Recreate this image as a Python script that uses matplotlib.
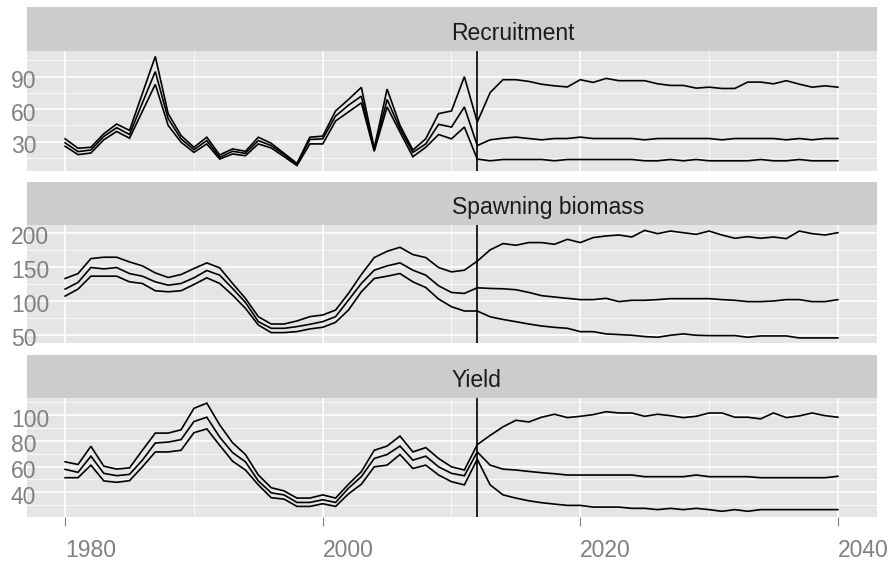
import matplotlib
matplotlib.use("Agg")
import matplotlib.pyplot as plt
from matplotlib.transforms import ScaledTranslation

# ---- data -----------------------------------------------------------------
years = list(range(1980, 2041))
proj_start = 2012

rec_hi = [32.5, 23.8, 24.7, 37.2, 46.2, 40.3, 74.5, 108.7, 55.8, 35.6, 24.7,
          34.0, 17.6, 23.2, 21.0, 34.0, 28.4, 19.1, 9.8, 34.0, 35.0, 58.3,
          68.9, 80.1, 24.0, 78.5, 45.0, 22.2, 32.5, 55.8, 58.3, 90.0, 48.0,
          75.3, 87.2, 87.2, 85.6, 83.0, 81.5, 80.5, 87.2, 84.7, 88.4, 86.3,
          86.3, 86.3, 83.4, 81.9, 81.9, 79.4, 80.3, 79.1, 79.1, 85.0, 85.0,
          83.4, 86.3, 83.1, 80.3, 81.5, 80.3]
rec_med = [28.8, 20.7, 22.2, 34.7, 42.8, 36.5, 65.8, 94.7, 51.1, 32.5, 22.5,
           30.9, 15.4, 21.0, 19.1, 30.9, 26.3, 17.9, 8.8, 31.9, 32.5, 53.6,
           63.6, 72.0, 22.0, 68.9, 41.8, 20.0, 27.8, 45.9, 43.4, 62.0, 26.3,
           31.6, 33.1, 34.1, 32.8, 31.6, 32.8, 32.8, 34.1, 32.8, 32.8, 32.8,
           32.8, 31.6, 32.8, 32.8, 32.8, 32.8, 32.8, 31.6, 32.8, 32.8, 32.8,
           32.8, 31.6, 32.8, 31.6, 32.8, 32.8]
rec_lo = [25.6, 17.9, 19.4, 31.6, 39.3, 33.1, 58.0, 82.9, 44.9, 29.4, 20.0,
          27.8, 13.8, 18.5, 16.9, 27.8, 24.1, 16.0, 7.8, 27.8, 27.8, 49.0,
          57.4, 65.8, 21.0, 62.0, 38.7, 16.0, 24.7, 36.5, 32.5, 43.4, 13.8,
          12.2, 13.4, 13.4, 13.4, 13.4, 12.2, 13.4, 13.4, 13.4, 13.4, 13.4,
          13.4, 12.2, 12.2, 13.4, 12.2, 13.4, 12.2, 12.2, 12.2, 12.2, 13.4,
          12.2, 12.2, 13.4, 12.2, 12.2, 12.2]

ssb_hi = [132.8, 140.0, 162.0, 164.0, 164.0, 157.1, 151.3, 141.0, 134.3, 138.6,
          147.4, 155.7, 148.4, 125.5, 103.6, 76.8, 66.0, 66.0, 70.5, 76.8,
          79.2, 86.5, 110.9, 138.6, 163.5, 172.7, 178.6, 167.9, 163.5, 148.9,
          142.5, 145.0, 158.2,
          174.8, 184.0, 181.6, 185.5, 185.5, 183.0, 190.3, 185.5, 192.8, 195.2,
          196.6, 193.7, 203.4, 198.6, 202.4, 200.0, 197.6, 202.4, 196.6, 191.8,
          194.2, 191.8, 193.7, 191.3, 202.4, 198.6, 196.6, 200.0]
ssb_med = [117.2, 127.0, 148.9, 146.9, 148.9, 140.0, 136.2, 127.9, 123.0, 125.5,
           133.8, 144.5, 137.7, 118.2, 97.7, 69.5, 59.7, 59.7, 62.2, 65.6,
           69.5, 76.8, 101.1, 125.5, 145.0, 151.3, 155.7, 145.0, 137.7, 122.1,
           112.3, 110.9, 119.2,
           118.2, 117.7, 116.3, 112.4, 107.6, 105.6, 103.7, 101.8, 101.8, 103.7,
           98.9, 100.8, 100.8, 101.8, 103.2, 103.2, 103.2, 103.2, 101.8, 100.8,
           98.9, 98.9, 99.8, 101.8, 101.8, 98.9, 98.9, 101.8]
ssb_lo = [107.0, 117.2, 136.2, 136.2, 136.2, 127.9, 125.5, 114.8, 113.3, 114.8,
          124.0, 133.8, 125.5, 108.4, 89.0, 64.6, 53.4, 53.4, 54.9, 58.8,
          61.2, 68.5, 86.5, 113.3, 132.8, 136.2, 140.1, 127.9, 119.6, 102.6,
          91.4, 85.1, 85.1,
          76.6, 72.7, 69.4, 66.0, 63.1, 61.1, 59.7, 54.8, 54.8, 51.5,
          50.5, 49.5, 47.6, 46.6, 49.5, 51.5, 49.5, 49.0, 49.0, 49.0,
          46.6, 48.5, 48.5, 48.5, 45.6, 45.6, 45.6, 45.6]

yld_hi = [63.7, 61.6, 75.8, 60.3, 58.0, 59.0, 72.7, 86.1, 86.1, 88.7, 105.4,
          109.5, 92.5, 78.6, 69.4, 53.4, 43.5, 41.0, 35.4, 35.4, 37.9, 35.4,
          46.2, 56.0, 72.7, 76.0, 83.8, 71.4, 74.8, 66.3, 59.8, 57.3, 77.1,
          84.3, 91.0, 96.1, 94.8, 98.5, 100.8, 98.2, 99.2, 100.5, 102.8, 101.8,
          101.8, 99.2, 100.8, 99.7, 98.2, 99.2, 101.8, 101.8, 98.5, 98.5, 97.2,
          101.8, 98.2, 99.5, 101.8, 99.7, 98.5]
yld_med = [57.8, 55.5, 68.1, 54.7, 52.9, 53.9, 65.0, 78.4, 79.1, 81.0, 95.1,
           98.5, 83.0, 70.9, 63.7, 48.8, 39.5, 37.9, 32.0, 32.0, 34.1, 32.0,
           43.1, 52.1, 66.3, 69.4, 76.0, 65.0, 68.1, 59.8, 54.7, 52.8, 71.4,
           61.1, 58.0, 57.3, 56.2, 55.2, 54.4, 53.4, 53.4, 53.4, 53.4, 53.4,
           53.4, 52.1, 52.1, 52.1, 52.1, 53.4, 52.1, 52.1, 52.1, 52.1, 51.3,
           51.3, 51.3, 51.3, 51.3, 51.3, 52.4]
yld_lo = [51.3, 51.3, 61.1, 48.8, 47.7, 49.0, 59.8, 71.4, 71.4, 72.7, 86.4,
          89.4, 76.6, 64.2, 57.3, 45.7, 35.7, 34.6, 28.9, 28.9, 31.0, 28.9,
          38.7, 46.2, 59.8, 61.1, 69.4, 58.5, 61.1, 53.4, 48.2, 45.7, 65.7,
          45.7, 37.9, 35.4, 33.3, 31.8, 30.7, 29.7, 29.7, 28.4, 28.4, 28.4,
          27.4, 27.4, 26.4, 27.4, 26.4, 27.4, 26.4, 25.1, 26.4, 25.1, 26.4,
          26.4, 26.4, 26.4, 26.4, 26.4, 26.4]

facet_titles = ["Recruitment", "Spawning biomass", "Yield"]
y_major = [[30, 60, 90], [50, 100, 150, 200], [40, 60, 80, 100]]
y_minor = [[15, 45, 75, 105], [75, 125, 175], [30, 50, 70, 90, 110]]
x_major = [1980, 2000, 2020, 2040]
x_minor = [1990, 2010, 2030]
series = [(rec_hi, rec_med, rec_lo), (ssb_hi, ssb_med, ssb_lo),
          (yld_hi, yld_med, yld_lo)]

# ---- style ----------------------------------------------------------------
plt.rcParams["font.family"] = ["Liberation Sans", "DejaVu Sans"]
PANEL_BG = "#E5E5E5"
STRIP_BG = "#CCCCCC"
TICK_GREY = "#808080"
FS = 16.5

W, H, DPI = 894, 563, 100
fig = plt.figure(figsize=(W / DPI, H / DPI), dpi=DPI)
fig.patch.set_facecolor("white")

LEFT, RIGHT = 26.5, 876.5
strip_tops = [7, 181.5, 355]
panel_tops = [51, 225, 397.7]
panel_bottoms = [171, 343.3, 516.7]


def box(top, bottom):
    return [LEFT / W, 1 - bottom / H, (RIGHT - LEFT) / W, (bottom - top) / H]


def expand(lo, hi, frac=0.05):
    pad = (hi - lo) * frac
    return lo - pad, hi + pad


xlim = expand(min(years), max(years))

for i, title in enumerate(facet_titles):
    # strip with facet title
    sax = fig.add_axes(box(strip_tops[i], panel_tops[i]))
    sax.set_facecolor(STRIP_BG)
    sax.set_xticks([])
    sax.set_yticks([])
    for sp in sax.spines.values():
        sp.set_visible(False)
    sax.text(0.5, 0.26, title, transform=sax.transAxes, ha="left",
             va="baseline", fontsize=FS, color="#1A1A1A")

    ax = fig.add_axes(box(panel_tops[i], panel_bottoms[i]))
    ax.set_facecolor(PANEL_BG)
    for sp in ax.spines.values():
        sp.set_visible(False)
    ax.set_axisbelow(True)

    hi, med, lo = series[i]
    for s in (hi, med, lo):
        ax.plot(years, s, color="black", lw=1.2, solid_joinstyle="miter",
                zorder=3)
    ax.axvline(proj_start, color="black", lw=1.2, zorder=3)

    allv = hi + med + lo
    ax.set_ylim(*expand(min(allv), max(allv)))
    ax.set_xlim(*xlim)

    ax.set_xticks(x_major)
    ax.set_xticks(x_minor, minor=True)
    ax.set_yticks(y_major[i])
    ax.set_yticks(y_minor[i], minor=True)
    ax.grid(which="major", color="white", lw=1.2)
    ax.grid(which="minor", color="white", lw=0.55)

    ax.tick_params(axis="both", which="minor", length=0)
    ax.tick_params(axis="y", which="major", length=0, pad=11.2,
                   labelsize=FS, labelcolor=TICK_GREY)
    ax.set_yticklabels([str(v) for v in y_major[i]])
    shift = ScaledTranslation(0, -2.5 / DPI, fig.dpi_scale_trans)
    for lab in ax.get_yticklabels():
        lab.set_horizontalalignment("left")
        lab.set_verticalalignment("center_baseline")
        lab.set_transform(lab.get_transform() + shift)

    if i == len(facet_titles) - 1:
        ax.tick_params(axis="x", which="major", length=6.5, width=0.8,
                       color=TICK_GREY, pad=9.6, labelsize=FS,
                       labelcolor=TICK_GREY)
        ax.set_xticklabels([str(v) for v in x_major])
        for lab in ax.get_xticklabels():
            lab.set_horizontalalignment("left")
            lab.set_verticalalignment("top")
    else:
        ax.tick_params(axis="x", which="major", length=0, labelbottom=False)

fig.savefig("out.png", dpi=DPI)
